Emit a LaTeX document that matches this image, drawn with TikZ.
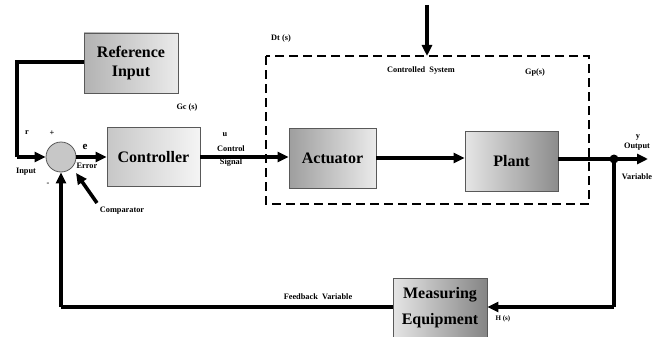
\documentclass[tikz,border=0pt]{standalone}
\usepackage{fontspec}
\setmainfont{Liberation Serif}
\usetikzlibrary{arrows.meta}
\begin{document}
\begin{tikzpicture}[x=1pt,y=-1pt,
  blk/.style={draw=black!65,line width=0.8pt,font=\fontsize{16}{20}\selectfont\bfseries,align=center,inner sep=0pt},
  lr/.style={left color=#1},
  conn/.style={line width=3.6pt,-{Triangle[length=11pt,width=10pt]}},
  plainln/.style={line width=3.6pt},
  lbl/.style={font=\fontsize{8.3}{10}\selectfont\bfseries,inner sep=0pt}]
\useasboundingbox (0,0) rectangle (658,337);
% blocks
\node[blk,minimum width=94pt,minimum height=60pt,left color=black!30,right color=black!8] (refin) at (131,63) {Reference\\[-1pt]Input};
\node[blk,minimum width=93pt,minimum height=59pt,left color=black!22,right color=black!4] (ctrl) at (153.5,157) {Controller};
\node[blk,minimum width=87pt,minimum height=60pt,shading angle=60,left color=black!38,right color=black!8] (act) at (332.5,158) {Actuator};
\node[blk,minimum width=93pt,minimum height=60pt,left color=black!10,right color=black!45] (plant) at (511.5,161) {Plant};
\node[blk,minimum width=94pt,minimum height=60pt,left color=black!10,right color=black!48,font=\fontsize{16}{26}\selectfont\bfseries] (meas) at (440,308) {Measuring\\Equipment};
\node[circle,draw=black!65,line width=0.8pt,fill=black!22,minimum size=30pt,inner sep=0pt] (comp) at (61,157) {};
% dashed controlled system
\draw[dashed,line width=1.2pt,dash pattern=on 9pt off 5pt] (266,56) rectangle (589,204);
\coordinate (dtop) at (427,5);
\coordinate (dbot) at (427,56);
\draw[conn] (dtop) -- (dbot);
% junction and output
\coordinate (j) at (614,159);
\coordinate (out) at (648,159);
\coordinate (fbr) at (614,307);
\coordinate (fbl) at (61,307);
\coordinate (rl) at (17,62);
\coordinate (rb) at (17,157);
\coordinate (ca) at (97,203);
\coordinate (cb) at (76,173);
% connectors
\draw[plainln] (refin.west |- rl) -- (rl) -- (rb);
\draw[conn] (rb) -- (comp.west);
\draw[conn] (comp.east) -- (ctrl.west);
\draw[conn] (ctrl.east) -- (act.west |- ctrl.east);
\draw[conn] (act.east) -- (act.east -| plant.west);
\draw[plainln] (plant.east |- j) -- (j);
\draw[conn] (j) -- (out);
\draw[plainln] (j) -- (fbr);
\draw[conn] (fbr) -- (meas.east |- fbr);
\draw[plainln] (meas.west |- fbl) -- (fbl);
\draw[conn] (fbl) -- (comp.south);
\draw[conn] (ca) -- (cb);
\fill (j) circle (4.5pt);
% labels
\node[lbl] (gc) at (187,108) {Gc (s)};
\node[lbl] (dt) at (281,39) {Dt (s)};
\node[lbl] (cs) at (421,71) {Controlled\enspace System};
\node[lbl] (gp) at (535,73) {Gp(s)};
\node[lbl] (r) at (27,133) {r};
\node[lbl] (plus) at (52,133) {+};
\node[lbl] (inp) at (26,172) {Input};
\node[lbl] (minus) at (48,184) {-};
\node[lbl,font=\fontsize{11}{12}\selectfont\bfseries] (e) at (85,147) {e};
\node[lbl] (err) at (87,166) {Error};
\node[lbl] (u) at (225,135) {u};
\node[lbl] (cont) at (231,149) {Control};
\node[lbl] (sig) at (231,163) {Signal};
\node[lbl] (y) at (638,137) {y};
\node[lbl] (outp) at (637,147) {Output};
\node[lbl] (var) at (637,177) {Variable};
\node[lbl] (cmpt) at (122,211) {Comparator};
\node[lbl] (fbv) at (318,297) {Feedback\enspace Variable};
\node[lbl,font=\fontsize{7}{8}\selectfont\bfseries] (hs) at (503,319) {H (s)};
\end{tikzpicture}
\end{document}
